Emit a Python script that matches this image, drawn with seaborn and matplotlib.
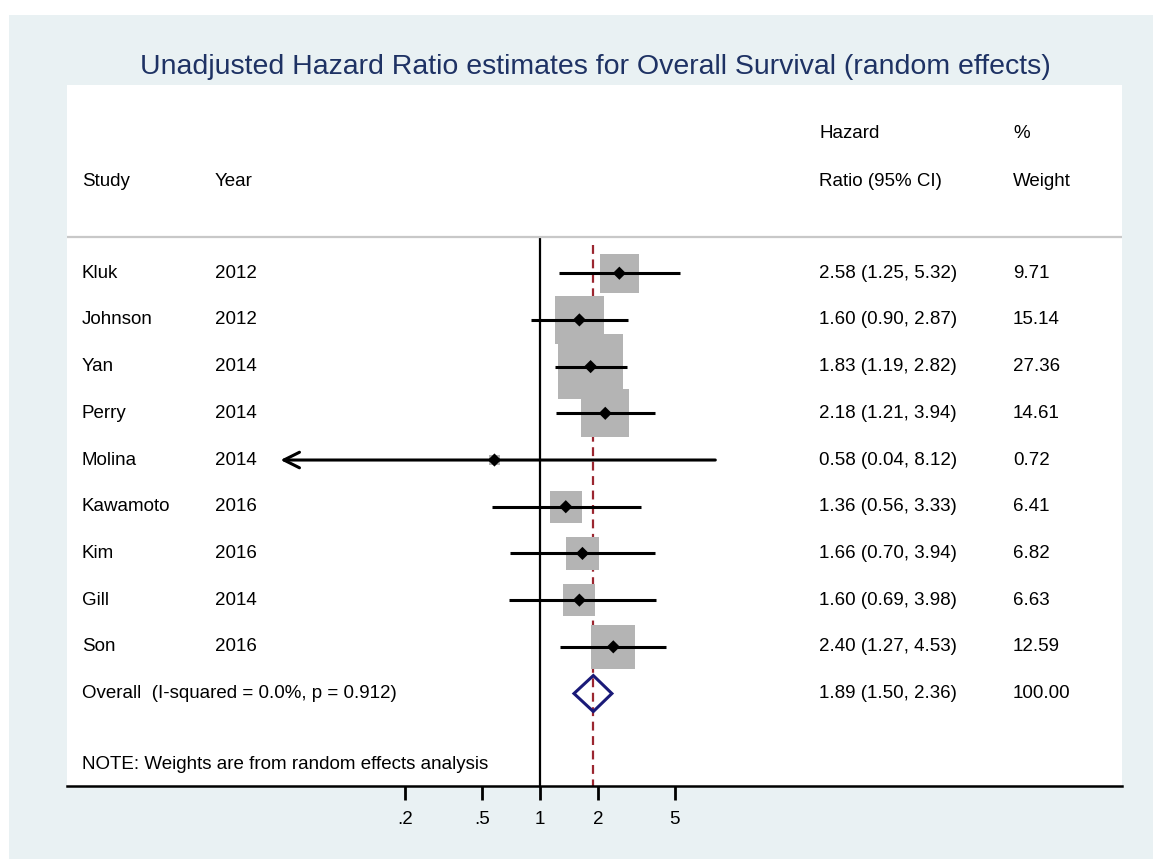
import numpy as np
import pandas as pd
import seaborn as sns
import matplotlib.pyplot as plt
from matplotlib.patches import Rectangle

studies = ['Kluk', 'Johnson', 'Yan', 'Perry', 'Molina', 'Kawamoto', 'Kim', 'Gill', 'Son']
years = [2012, 2012, 2014, 2014, 2014, 2016, 2016, 2014, 2016]
hr = [2.58, 1.60, 1.83, 2.18, 0.58, 1.36, 1.66, 1.60, 2.40]
lo = [1.25, 0.90, 1.19, 1.21, 0.04, 0.56, 0.70, 0.69, 1.27]
hi = [5.32, 2.87, 2.82, 3.94, 8.12, 3.33, 3.94, 3.98, 4.53]
weight = [9.71, 15.14, 27.36, 14.61, 0.72, 6.41, 6.82, 6.63, 12.59]
overall = (1.89, 1.50, 2.36)
overall_label = 'Overall  (I-squared = 0.0%, p = 0.912)'
ticks = [0.2, 0.5, 1, 2, 5]
tick_labels = ['.2', '.5', '1', '2', '5']
x_clip = 0.045  # lower display limit for CIs (arrow drawn beyond)

df = pd.DataFrame({'study': studies, 'year': years, 'hr': hr, 'lo': lo,
                   'hi': hi, 'weight': weight})
df['row'] = np.arange(len(df))

sns.set_style('white')
plt.rcParams['font.family'] = ['Liberation Sans', 'DejaVu Sans']
plt.rcParams['text.color'] = 'black'
plt.rcParams['xtick.color'] = 'black'
plt.rcParams['xtick.labelcolor'] = 'black'

bg = '#E9F1F3'
fig = plt.figure(figsize=(11.53, 8.59), dpi=100, facecolor='white')
fig.patches.append(Rectangle((9 / 1153, 0), 1, 1 - 15 / 859, transform=fig.transFigure,
                             facecolor=bg, edgecolor='none', zorder=-10))
ax = fig.add_axes([67 / 1153, 73 / 859, 1055 / 1153, 701 / 859])
ax.set_facecolor('white')
ax.set_xscale('log')
ax.set_xlim(0.00351, 1047)
ax.set_ylim(10.98, -4.03)

n = len(df)
# reference lines
ax.vlines(1, -0.77, 10.98, color='black', lw=1.6, zorder=1)
ax.vlines(overall[0], -0.6, 10.98, color='#9B2630', lw=1.6, ls=(0, (4, 2.5)), zorder=1)
ax.hlines(-0.77, 0.00351, 1047, color='#C8C8C8', lw=1.6)

# weight boxes
sns.scatterplot(data=df, x='hr', y='row', marker='s', s=df['weight'] * 81,
                color='#B4B4B4', edgecolor='none', ax=ax, zorder=2, legend=False)

# confidence intervals
for _, r in df.iterrows():
    if r['lo'] < x_clip:
        ax.annotate('', xy=(x_clip, r['row']), xytext=(r['hi'], r['row']),
                    arrowprops=dict(arrowstyle='->', lw=2.2, color='black',
                                    mutation_scale=28, shrinkA=0, shrinkB=0),
                    zorder=3)
    else:
        ax.hlines(r['row'], r['lo'], r['hi'], color='black', lw=2.2, zorder=3)

sns.scatterplot(data=df, x='hr', y='row', marker='D', s=45, color='black',
                edgecolor='none', ax=ax, zorder=4, legend=False)

# overall diamond
oy = n
ax.fill([overall[1], overall[0], overall[2], overall[0]],
        [oy, oy - 0.385, oy, oy + 0.385], facecolor='none',
        edgecolor='#1A1A78', lw=2.2, zorder=4)

# text columns
fs = 13.5
tr = ax.get_yaxis_transform()
col_study, col_year, col_hr, col_w = 0.0142, 0.1403, 0.7128, 0.8967
for _, r in df.iterrows():
    ax.text(col_study, r['row'], r['study'], transform=tr, va='center', fontsize=fs)
    ax.text(col_year, r['row'], str(r['year']), transform=tr, va='center', fontsize=fs)
    ax.text(col_hr, r['row'], f"{r['hr']:.2f} ({r['lo']:.2f}, {r['hi']:.2f})",
            transform=tr, va='center', fontsize=fs)
    ax.text(col_w, r['row'], f"{r['weight']:.2f}", transform=tr, va='center', fontsize=fs)
ax.text(col_study, oy, overall_label, transform=tr, va='center', fontsize=fs)
ax.text(col_hr, oy, f"{overall[0]:.2f} ({overall[1]:.2f}, {overall[2]:.2f})",
        transform=tr, va='center', fontsize=fs)
ax.text(col_w, oy, '100.00', transform=tr, va='center', fontsize=fs)
ax.text(col_study, 10.53, 'NOTE: Weights are from random effects analysis',
        transform=tr, va='center', fontsize=fs)

ax.text(col_study, -1.97, 'Study', transform=tr, va='center', fontsize=fs)
ax.text(col_year, -1.97, 'Year', transform=tr, va='center', fontsize=fs)
ax.text(col_hr, -3.0, 'Hazard', transform=tr, va='center', fontsize=fs)
ax.text(col_hr, -1.97, 'Ratio (95% CI)', transform=tr, va='center', fontsize=fs)
ax.text(col_w, -3.0, '%', transform=tr, va='center', fontsize=fs)
ax.text(col_w, -1.97, 'Weight', transform=tr, va='center', fontsize=fs)

# axes styling
for s in ['top', 'left', 'right']:
    ax.spines[s].set_visible(False)
ax.spines['bottom'].set_color('black')
ax.spines['bottom'].set_linewidth(1.8)
ax.set_yticks([])
ax.set_xticks(ticks)
ax.set_xticklabels(tick_labels, fontsize=fs)
ax.xaxis.set_minor_locator(plt.NullLocator())
ax.tick_params(axis='x', direction='out', length=10, width=2, color='black',
               labelcolor='black', pad=8, bottom=True)
ax.set_xlabel('')
ax.set_ylabel('')

fig.text(595 / 1153, 1 - 67 / 859,
         'Unadjusted Hazard Ratio estimates for Overall Survival (random effects)',
         ha='center', va='center', fontsize=20.5, color='#1E3264')

fig.savefig('out.png', dpi=100, facecolor=fig.get_facecolor())
